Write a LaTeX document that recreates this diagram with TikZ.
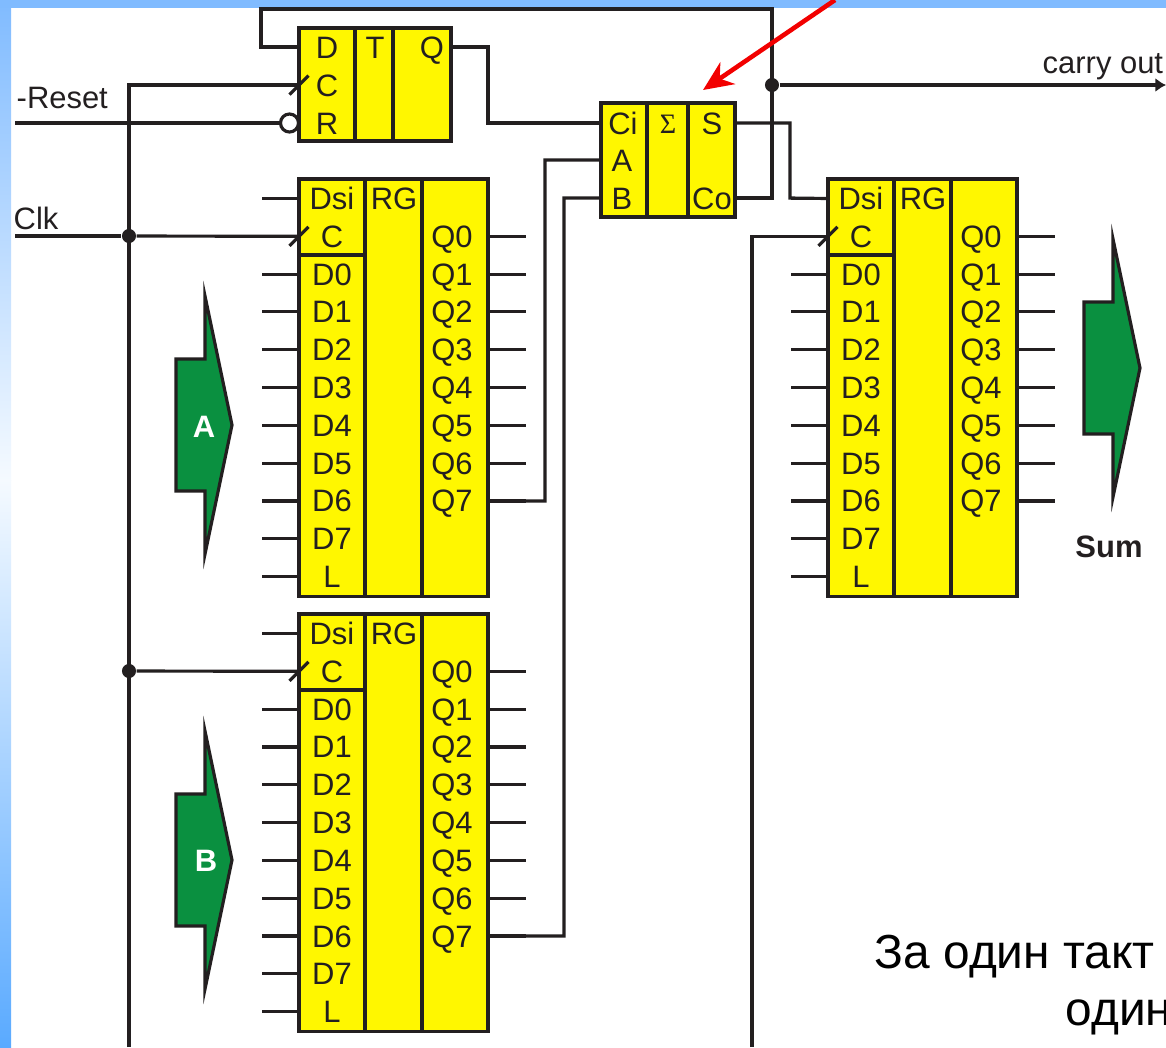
\documentclass[tikz,border=0pt]{standalone}
\usepackage{fontspec}
\setmainfont{Liberation Sans}
\newfontfamily\sigmafont{Liberation Serif}
\usetikzlibrary{arrows.meta}
\definecolor{wirecol}{HTML}{231F20}
\definecolor{cellcol}{HTML}{FFF700}
\definecolor{buscol}{HTML}{0A9040}
\definecolor{framecol}{HTML}{80BBFF}
\definecolor{framelow}{HTML}{5AAAFF}
\definecolor{framemid}{HTML}{F5FAFF}
% three columns and all pins of one register: name, left edge, top edge
\newcommand{\shiftreg}[3]{%
  \begin{scope}[shift={(#2,#3)}]
    \node[cell, minimum width=0.66cm, minimum height=0.76cm] (#1ctl) at (0,0) {};
    \node[cell, minimum width=0.66cm, minimum height=3.41cm] (#1dat) at (0,76) {};
    \node[cell, minimum width=0.57cm, minimum height=4.17cm] (#1mid) at (66,0) {};
    \node[cell, minimum width=0.66cm, minimum height=4.17cm] (#1out) at (123,0) {};
    \node[txt] (#1rg) at (95,19.5) {RG};
    \foreach \pinname [count=\i from 0] in {Dsi,C,D0,D1,D2,D3,D4,D5,D6,D7,L} {
      \pgfmathsetmacro{\rowy}{19.5+37.8*\i}
      \coordinate (#1p\i) at (0,\rowy);
      \coordinate (#1s\i) at (-37,\rowy);
      \node[txt] (#1t\i) at (33,\rowy) {\pinname};
      \ifnum\i=1 \else \draw[wire] (#1s\i) -- (#1p\i); \fi
    }
    \foreach \i in {0,...,7} {
      \pgfmathsetmacro{\rowy}{57.3+37.8*\i}
      \coordinate (#1q\i) at (189,\rowy);
      \coordinate (#1o\i) at (227,\rowy);
      \node[txt] (#1v\i) at (153,\rowy) {Q\i};
      \draw[wire] (#1q\i) -- (#1o\i);
    }
    \draw[wire] ([shift={(-9.5,9.5)}]#1p1) -- ([shift={(9.5,-9.5)}]#1p1);
  \end{scope}}
% fat bus arrow, given by the middle of its spike line
\newcommand{\busarrow}[2]{%
  \draw[bus, shift={(#1,#2)}] (27,0) -- (0,-129) -- (0,-66) -- (-29,-66)
    -- (-29,66) -- (0,66) -- (0,129) -- cycle;}
\begin{document}
\begin{tikzpicture}[
  x=0.01cm, y=-0.01cm,
  font=\fontsize{8.8}{10}\selectfont,
  cell/.style={draw=wirecol, fill=cellcol, line width=0.9pt, rectangle, anchor=north west, inner sep=0pt, outer sep=0pt},
  txt/.style={inner sep=0pt, text height=6.3pt, text depth=0pt, text=wirecol},
  lbl/.style={inner sep=0pt, anchor=base west, text=wirecol},
  wire/.style={draw=wirecol, line width=0.9pt},
  arrow/.style={wire, -{Latex[length=3pt,width=4pt]}},
  junction/.style={circle, fill=wirecol, inner sep=0pt, minimum size=4pt},
  bubble/.style={circle, draw=wirecol, fill=white, line width=0.9pt, inner sep=0pt, minimum size=0.18cm},
  bus/.style={draw=wirecol, fill=buscol, line width=0.9pt, line join=miter, miter limit=12},
  pointer/.style={draw=red!95!black, line width=1.3pt, -{Stealth[length=8.5pt,width=7.5pt]}},
]
\useasboundingbox (0,0) rectangle (1166,1047);
\fill[white] (0,0) rectangle (1166,1047);
\fill[top color=framecol, bottom color=framemid] (0,0) rectangle (11,480);
\fill[top color=framemid, bottom color=framelow] (0,480) rectangle (11,1047);
\fill[framecol] (0,0) rectangle (1166,8);

% trigger and adder
\node[cell, minimum width=0.56cm, minimum height=1.13cm] (ffl) at (299,28) {};
\node[cell, minimum width=0.38cm, minimum height=1.13cm] (ffm) at (355,28) {};
\node[cell, minimum width=0.58cm, minimum height=1.13cm] (ffr) at (393,28) {};
\node[cell, minimum width=0.46cm, minimum height=1.14cm] (suml) at (601,103) {};
\node[cell, minimum width=0.41cm, minimum height=1.14cm] (summ) at (647,103) {};
\node[cell, minimum width=0.47cm, minimum height=1.14cm] (sumr) at (688,103) {};
\node[txt] (ffdt) at (327,47) {D};
\node[txt] (ffct) at (327,85) {C};
\node[txt] (ffrt) at (327,123) {R};
\node[txt] (fftt) at (375,47) {T};
\node[txt] (ffqt) at (432,47) {Q};
\node[txt] (sumci) at (623,123) {Ci};
\node[txt] (suma) at (622,160) {A};
\node[txt] (sumb) at (622,198) {B};
\node[txt] (sumsig) at (668,122) {\sigmafont\fontsize{8}{10}\selectfont Σ};
\node[txt] (sums) at (712,123) {S};
\node[txt] (sumco) at (712,198) {Co};

% registers
\shiftreg{regA}{299}{179}
\shiftreg{regB}{299}{614}
\shiftreg{regS}{828}{179}

% free ends and pins
\coordinate (resetin) at (15,123);
\coordinate (clkin) at (15,236);
\coordinate (clkbot) at (129,1047);
\coordinate (clkbotS) at (752,1047);
\coordinate (carryend) at (1166,85);
\coordinate (ffD) at (299,47);
\coordinate (ffC) at (299,85);
\coordinate (ffQ) at (451,47);
\coordinate (inCi) at (601,123);
\coordinate (inA) at (601,160);
\coordinate (inB) at (601,198);
\coordinate (outS) at (735,123);
\coordinate (outCo) at (735,198);
\coordinate (ptrstart) at (835,0);
\coordinate (ptrend) at (703,90);
\node[junction] (jclk) at (129,236) {};
\node[junction] (jclkB) at (129,671) {};
\node[junction] (jcarry) at (772,85) {};
\node[bubble] (ffbub) at (289.5,123) {};

% connections
\draw[wire] (clkbot) |- (ffC);
\draw[wire] (resetin) -- (ffbub);
\draw[wire] (clkin) -- (jclk);
\draw[wire] (jclk) -- (regAp1);
\draw[wire] (jclkB) -- (regBp1);
\draw[wire] (clkbotS) |- (regSp1);
\draw[wire] (ffD) -- (261,47) |- (772,9) |- (outCo);
\draw[wire] (ffQ) -- (488,47) |- (inCi);
\draw[wire] (regAq7) -- (545,501) |- (inA);
\draw[wire] (regBq7) -- (564,936) |- (inB);
\draw[wire] (outS) -| (790,198) -- (regSp0);
\draw[arrow] (jcarry) -- (carryend);
\draw[wire] ([shift={(-9.5,9.5)}]ffC) -- ([shift={(9.5,-9.5)}]ffC);

% bus arrows
\busarrow{205}{425}
\busarrow{205}{860}
\busarrow{1113}{368}
\node[font=\fontsize{8.8}{10}\selectfont\bfseries, text=white, inner sep=0pt] (busA) at (204,427) {A};
\node[font=\fontsize{8.8}{10}\selectfont\bfseries, text=white, inner sep=0pt] (busB) at (206,861) {B};
\node[lbl, anchor=base, font=\fontsize{8.8}{10}\selectfont\bfseries] (busS) at (1109,557) {Sum};

% labels
\node[lbl] (resetlbl) at (16,108) {-Reset};
\node[lbl] (clklbl) at (13,229) {Clk};
\node[lbl] (carrylbl) at (1042,73) {carry out};
\node[lbl, font=\fontsize{13.6}{16}\selectfont, text=black] (note1) at (874,968) {За один такт};
\node[lbl, font=\fontsize{13.6}{16}\selectfont, text=black] (note2) at (1065,1025) {один};

\draw[pointer] (ptrstart) -- (ptrend);
\end{tikzpicture}
\end{document}
